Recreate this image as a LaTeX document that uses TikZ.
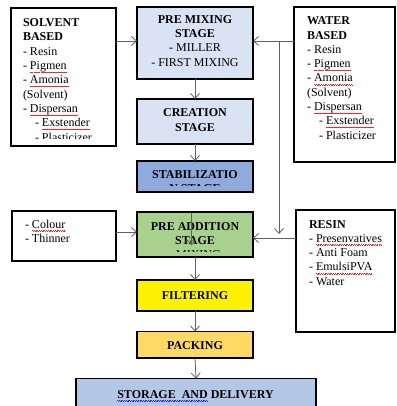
\documentclass[tikz,border=0pt]{standalone}
\usepackage{fontspec}
\setmainfont{Liberation Serif}
\usetikzlibrary{arrows.meta}
\definecolor{lblue}{HTML}{DAE3F3}
\definecolor{mblue}{HTML}{8FAADC}
\definecolor{sblue}{HTML}{B4C7E7}
\definecolor{lgreen}{HTML}{A9D18E}
\definecolor{lorange}{HTML}{FFD966}
\definecolor{conn}{HTML}{606060}
\newsavebox\sqbox
\newcommand\sqwave[2]{\sbox\sqbox{#2}\rlap{\hbox to \wd\sqbox{\color{#1}\xleaders\hbox{\rule[-2.5pt]{0.7pt}{0.4pt}\rule[-3.0pt]{0.7pt}{0.4pt}\hspace{0.3pt}}\hfil}}\usebox\sqbox}
\newcommand\sqr[1]{\sqwave{red!85}{#1}}
\newcommand\sqb[1]{\sqwave{blue!85}{#1}}
% multi-line blocks whose baseline is the baseline of their first line
\newcommand\lblock[1]{\vtop{\halign{##\hfil\cr#1\crcr}}}
\newcommand\cblock[1]{\vtop{\halign{\hfil##\hfil\cr#1\crcr}}}
\tikzset{
  box/.style={draw=black, line width=1.3pt, anchor=north west, inner sep=0pt, outer sep=0pt},
  txt/.style={inner sep=0pt, outer sep=0pt, font={\fontsize{12}{14.3}\selectfont}},
  arr/.style={draw=conn, line width=0.8pt, -{Straight Barb[length=5pt,width=9pt]}},
}
\begin{document}
\begin{tikzpicture}[x=1pt,y=-1pt]
\useasboundingbox (0,0) rectangle (396,406);
\clip (0,0) rectangle (396,406);
% boxes
\node[box, minimum width=105pt, minimum height=138pt] (solvent) at (11,8) {};
\node[box, minimum width=101pt, minimum height=155pt] (water) at (294,7) {};
\node[box, fill=lblue, minimum width=116pt, minimum height=72pt] (premix) at (137,7) {};
\node[box, fill=lblue, minimum width=116pt, minimum height=45pt] (creation) at (137,99) {};
\node[box, fill=mblue, minimum width=116pt, minimum height=31pt] (stab) at (137,161) {};
\node[box, fill=lgreen, minimum width=116pt, minimum height=45pt] (preadd) at (137,212) {};
\node[box, fill=yellow, minimum width=116pt, minimum height=31pt] (filter) at (137,280) {};
\node[box, fill=lorange, minimum width=116pt, minimum height=26.5pt] (packing) at (137,331.5) {};
\node[box, fill=sblue, minimum width=240pt, minimum height=45pt] (storage) at (76,378.5) {};
\node[box, minimum width=104pt, minimum height=50pt] (colour) at (12,211) {};
\node[box, minimum width=99pt, minimum height=122pt] (resin) at (296,210) {};
% texts
\begin{scope}
\clip (11,8) rectangle (116,138.4);
\node[txt, anchor=base west] (solventtxt) at (23,26.7)
{\lblock{\textbf{SOLVENT}\cr\textbf{BASED}\cr- Resin\cr- \sqr{Pigmen}\cr- \sqr{Amonia}\cr(Solvent)\cr- \sqr{Dispersan}\cr\hspace{12pt}- \sqr{Exstender}\cr\hspace{12pt}- Plasticizer}};
\end{scope}
\node[txt, anchor=base west] (watertxt) at (307,24.8)
{\lblock{\textbf{WATER}\cr\textbf{BASED}\cr- Resin\cr- \sqr{Pigmen}\cr- \sqr{Amonia}\cr(Solvent)\cr- \sqr{Dispersan}\cr\hspace{12pt}- \sqr{Exstender}\cr\hspace{12pt}- Plasticizer}};
\node[txt, anchor=base] (premixtxt) at (195,23.3)
{\cblock{\textbf{PRE MIXING}\cr\textbf{STAGE}\cr- MILLER\cr- FIRST MIXING}};
\node[txt, anchor=base] (creationtxt) at (195,116.7)
{\cblock{\textbf{CREATION}\cr\textbf{STAGE}}};
\begin{scope}
\clip (137,161) rectangle (253,185.6);
\node[txt, anchor=base] (stabtxt) at (195,178.3)
{\cblock{\textbf{STABILIZATIO}\cr\textbf{N STAGE}}};
\end{scope}
\begin{scope}
\clip (137,212) rectangle (253,251.3);
\node[txt, anchor=base] (preaddtxt) at (195,230)
{\cblock{\textbf{PRE ADDITION}\cr\textbf{STAGE}\cr- MIXING}};
\end{scope}
\node[txt, anchor=base] (filtertxt) at (195,299.5) {\textbf{FILTERING}};
\node[txt, anchor=base] (packingtxt) at (195,349) {\textbf{PACKING}};
\node[txt, anchor=base] (storagetxt) at (195.5,398.3) {\textbf{\sqb{STORAGE\ \ AND} DELIVERY}};
\node[txt, anchor=base west] (colourtxt) at (25,228.3)
{\lblock{- \sqr{Colour}\cr- Thinner}};
\node[txt, anchor=base west] (resintxt) at (309,228)
{\lblock{\textbf{RESIN}\cr- \sqr{Presenvatives}\cr- Anti Foam\cr- \sqr{EmulsiPVA}\cr- Water}};
% connector helper coordinates
\coordinate (ya) at (0,41);
\coordinate (yb) at (0,232);
\coordinate (yc) at (0,238);
\coordinate (j1) at (279,41);
\coordinate (j2) at (279,234);
\coordinate (s1) at (191.5,213);
\coordinate (s2) at (191.5,245.5);
% connectors
\draw[arr] (solvent.east |- ya) -- (premix.west |- ya);
\draw[arr] (water.west |- ya) -- (premix.east |- ya);
\draw[arr] (j1) -- (j2);
\draw[arr] (colour.east |- yb) -- (preadd.west |- yb);
\draw[arr] (resin.west |- yc) -- (preadd.east |- yc);
\draw[arr] (premix.south) -- (creation.north);
\draw[arr] (creation.south) -- (stab.north);
\draw[arr] (s1) -- (s2);
\draw[arr] (preadd.south) -- (filter.north);
\draw[arr] (filter.south) -- (packing.north);
\draw[arr] (packing.south) -- (storage.north);
\end{tikzpicture}
\end{document}
